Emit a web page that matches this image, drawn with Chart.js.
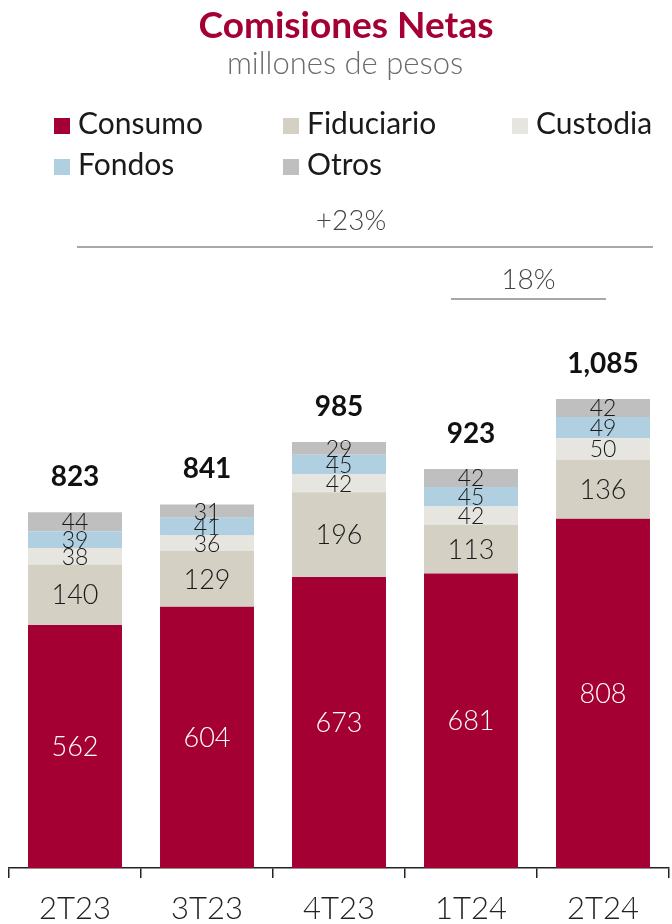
<!DOCTYPE html>
<html>
<head>
<meta charset="utf-8">
<script src="https://cdn.jsdelivr.net/npm/chart.js@4.4.1/dist/chart.umd.min.js"></script>
<style>
  html, body { margin: 0; padding: 0; background: #fff; overflow: hidden; }
  #wrap { width: 672px; height: 940px; }
</style>
</head>
<body>
<div id="wrap"><canvas id="c" width="672" height="940"></canvas></div>
<script>
// ---- Data ----
const categories = ['2T23', '3T23', '4T23', '1T24', '2T24'];
const consumo    = [562, 604, 673, 681, 808];
const fiduciario = [140, 129, 196, 113, 136];
const custodia   = [38, 36, 42, 42, 50];
const fondos     = [39, 41, 45, 45, 49];
const otros      = [44, 31, 29, 42, 42];
const seriesNames = ['Consumo', 'Fiduciario', 'Custodia', 'Fondos', 'Otros'];
const titleText = 'Comisiones Netas';
const subtitleText = 'millones de pesos';
const growthTotal = '+23%';
const growthQuarter = '18%';

const colors = ['#A50034', '#D4D0C4', '#E6E5E0', '#B0D0E2', '#BFBFBF'];
const seriesData = [consumo, fiduciario, custodia, fondos, otros];

const totals = categories.map((_, i) => seriesData.reduce((s, arr) => s + arr[i], 0));

const FONT = 'Lato, "Open Sans", sans-serif';

const overlay = {
  id: 'overlay',
  afterDatasetsDraw(chart) {
    const ctx = chart.ctx;
    const xs = chart.scales.x, ys = chart.scales.y;
    const top = chart.chartArea.top;
    ctx.save();

    // Title & subtitle
    ctx.textAlign = 'center';
    ctx.textBaseline = 'alphabetic';
    ctx.fillStyle = '#A50034';
    ctx.font = 'bold 37px ' + FONT;
    ctx.fillText(titleText, 346, 38);
    ctx.fillStyle = '#6b6b6b';
    ctx.font = '300 31px ' + FONT;
    ctx.fillText(subtitleText, 345, 74);

    // Legend (3-column grid)
    const colX = [54, 283, 512];
    const rowY = [118, 159];
    ctx.textAlign = 'left';
    ctx.font = '30px ' + FONT;
    chart.data.datasets.forEach((ds, i) => {
      const cx = colX[i % 3], cy = rowY[Math.floor(i / 3)];
      ctx.fillStyle = ds.backgroundColor;
      ctx.fillRect(cx, cy, 16, 16);
      ctx.fillStyle = '#1a1a1a';
      ctx.fillText(ds.label, cx + 24, cy + 16);
    });

    // Segment labels
    ctx.textAlign = 'center';
    ctx.textBaseline = 'middle';
    chart.data.datasets.forEach((ds, i) => {
      const meta = chart.getDatasetMeta(i);
      meta.data.forEach((bar, j) => {
        const cy = (bar.y + bar.base) / 2;
        ctx.fillStyle = i === 0 ? '#ffffff' : '#1a1a1a';
        ctx.font = '300 ' + (i < 2 ? 27 : 23) + 'px ' + FONT;
        ctx.fillText(String(ds.data[j]), bar.x, cy + 1);
      });
    });

    // Totals
    ctx.fillStyle = '#111';
    ctx.font = 'bold 28px ' + FONT;
    totals.forEach((t, j) => {
      ctx.fillText(t.toLocaleString('en-US'), xs.getPixelForValue(j), ys.getPixelForValue(t) - 35);
    });

    // Growth annotations
    ctx.strokeStyle = '#8c8c8c';
    ctx.lineWidth = 1.5;
    const n = categories.length;
    ctx.beginPath();
    ctx.moveTo(xs.getPixelForValue(0) + 2, top + 47);
    ctx.lineTo(xs.getPixelForValue(n - 1) + 50, top + 47);
    ctx.moveTo(xs.getPixelForValue(n - 2) - 20, top + 99);
    ctx.lineTo(xs.getPixelForValue(n - 1) + 3, top + 99);
    ctx.stroke();
    ctx.fillStyle = '#444';
    ctx.font = '300 28px ' + FONT;
    ctx.fillText(growthTotal, xs.getPixelForValue(2) + 12, top + 21);
    ctx.fillText(growthQuarter, (xs.getPixelForValue(n - 2) - 20 + xs.getPixelForValue(n - 1) + 3) / 2, top + 80);

    ctx.restore();
  }
};

new Chart(document.getElementById('c'), {
  type: 'bar',
  data: {
    labels: categories,
    datasets: seriesNames.map((name, i) => ({
      label: name,
      data: seriesData[i],
      backgroundColor: colors[i],
      borderWidth: 0,
      categoryPercentage: 1,
      barPercentage: 0.712
    }))
  },
  options: {
    responsive: false,
    animation: false,
    layout: { padding: { top: 200, left: 9, right: 3, bottom: 0 } },
    plugins: { legend: { display: false }, title: { display: false }, tooltip: { enabled: false } },
    scales: {
      x: {
        stacked: true,
        offset: true,
        border: { display: true, color: '#222', width: 1.5 },
        grid: { display: true, offset: true, drawOnChartArea: false, drawTicks: true, tickLength: 10, color: '#222', lineWidth: 1.5 },
        ticks: { color: '#222', padding: 12.4, font: { family: FONT, size: 31, weight: '300', lineHeight: 1.2 } }
      },
      y: {
        stacked: true,
        display: false,
        min: 0,
        max: 1545
      }
    }
  },
  plugins: [overlay]
});
</script>
</body>
</html>
